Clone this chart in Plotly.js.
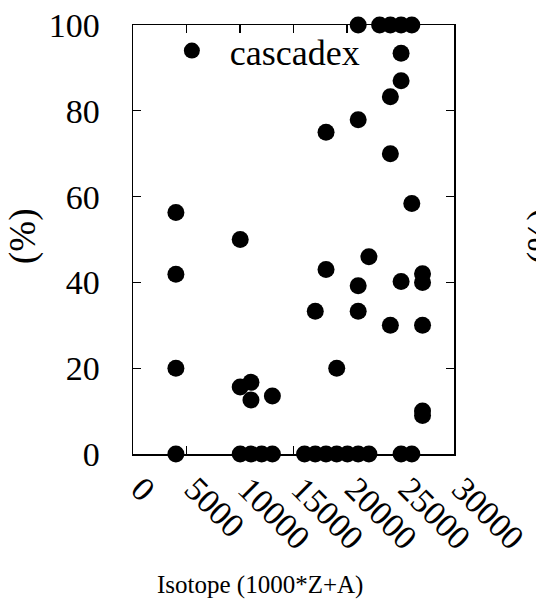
<!DOCTYPE html>
<html>
<head>
<meta charset="utf-8">
<script src="https://cdn.plot.ly/plotly-3.0.1.min.js"></script>
<style>html,body{margin:0;padding:0;background:#fff;}#chart{width:536px;height:605px;}</style>
</head>
<body>
<div id="chart"></div>
<script>
// Isotope (1000*Z+A) and percentage values
const isotope = [
  4009, 4009, 4009, 4009,
  10020, 10020, 10020,
  11023, 11023, 11023,
  12024,
  13027, 13027,
  16032,
  17035, 17035,
  18040, 18040, 18040,
  19039, 19039,
  20040,
  21045, 21045, 21045, 21045, 21045,
  22048, 22048,
  23051,
  24052, 24052, 24052, 24052,
  25055, 25055, 25055, 25055, 25055,
  26056, 26056, 26056,
  27059, 27059, 27059, 27059, 27059
];
const percent = [
  56.3, 41.9, 20.0, 0,
  50.0, 15.6, 0,
  16.7, 12.6, 0,
  0,
  13.5, 0,
  0,
  33.3, 0,
  75.0, 43.0, 0,
  20.0, 0,
  0,
  100, 77.9, 39.2, 33.3, 0,
  46.0, 0,
  100,
  100, 83.3, 70.0, 30.0,
  100, 93.4, 87.0, 40.2, 0,
  100, 58.4, 0,
  42.0, 40.0, 30.0, 10.0, 9.0
];
const seriesName = 'cascadex';
const xTicks = [0, 5000, 10000, 15000, 20000, 25000, 30000];
const yTicks = [0, 20, 40, 60, 80, 100];

const FONT = 'Liberation Serif, Times New Roman, serif';

const trace = {
  type: 'scatter',
  mode: 'markers',
  name: seriesName,
  x: isotope,
  y: percent,
  cliponaxis: false,
  marker: {color: '#000', size: 17, symbol: 'circle', line: {width: 0}}
};

const axisCommon = {
  showline: true, linecolor: '#000', linewidth: 1.5,
  mirror: 'ticks', ticks: 'inside', ticklen: 8, tickwidth: 1.2, tickcolor: '#000',
  showgrid: false, zeroline: false, layer: 'below traces',
  tickfont: {family: FONT, size: 34, color: '#000'}
};

const layout = {
  width: 536, height: 605,
  margin: {l: 133, r: 82, t: 25, b: 151},
  paper_bgcolor: '#fff', plot_bgcolor: '#fff',
  font: {family: FONT, color: '#000'},
  showlegend: true,
  legend: {
    x: 0.065, xanchor: 'left', y: 1.01, yanchor: 'top',
    bgcolor: 'rgba(0,0,0,0)', borderwidth: 0,
    itemwidth: 66,
    font: {family: FONT, size: 36, color: '#000'}
  },
  xaxis: Object.assign({}, axisCommon, {
    range: [0, 30000], tickvals: xTicks, ticktext: xTicks.map(String),
    tickangle: 45, ticklabelshift: 8
  }),
  yaxis: Object.assign({}, axisCommon, {
    range: [0, 100], tickvals: yTicks, ticktext: yTicks.map(String),
    ticklabelstandoff: 25
  }),
  annotations: [
    {text: 'Isotope (1000*Z+A)', xref: 'paper', yref: 'paper',
     x: (260 - 133) / 321, y: (454 - 585) / 429, xanchor: 'center', yanchor: 'middle',
     showarrow: false, font: {family: FONT, size: 25, color: '#000'}},
    {text: '(%)', xref: 'paper', yref: 'paper', textangle: -90,
     x: (23 - 133) / 321, y: (454 - 237) / 429, xanchor: 'center', yanchor: 'middle',
     showarrow: false, font: {family: FONT, size: 37, color: '#000'}},
    {text: '(%)', xref: 'paper', yref: 'paper', textangle: -90,
     x: (541 - 133) / 321, y: (454 - 237) / 429, xanchor: 'center', yanchor: 'middle',
     showarrow: false, font: {family: FONT, size: 37, color: '#000'}}
  ]
};

Plotly.newPlot('chart', [trace], layout, {displayModeBar: false, staticPlot: true});
</script>
</body>
</html>
